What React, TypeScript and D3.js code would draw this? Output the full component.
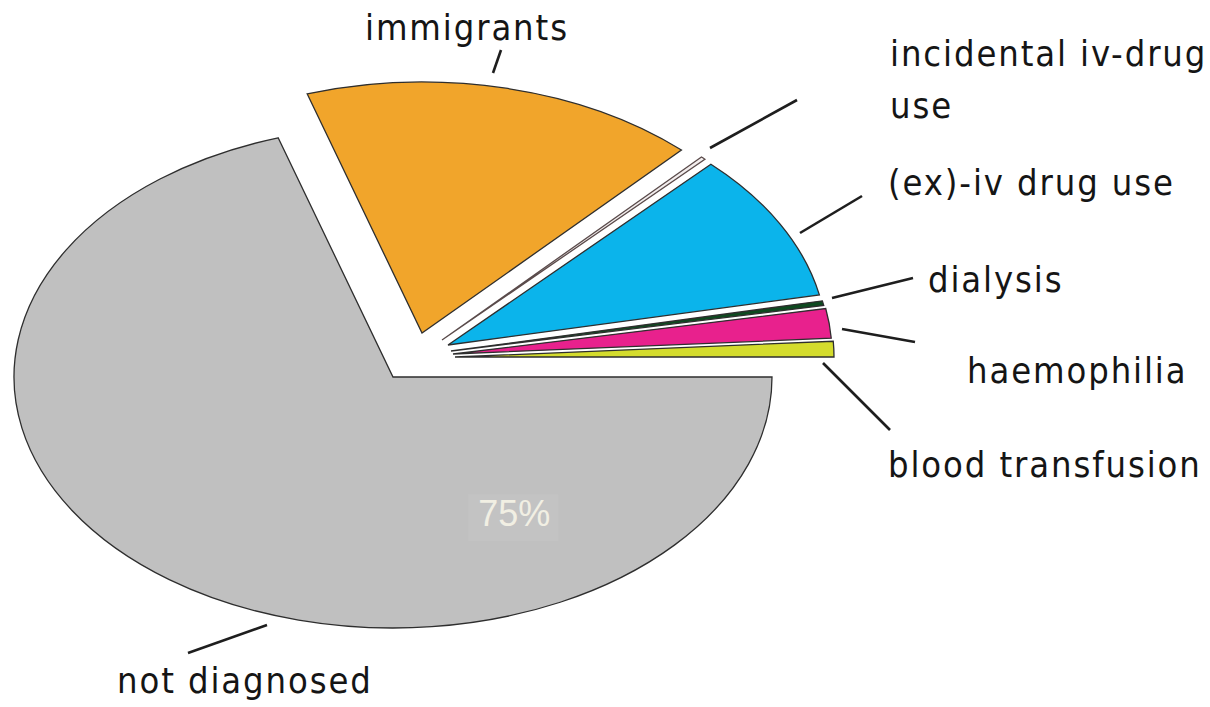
import React, { useEffect } from 'react';
import * as d3 from 'd3';

// slice order follows the drawing, clockwise from 3 o'clock
const categories = [
  'not diagnosed',
  'immigrants',
  'incidental iv-drug use',
  '(ex)-iv drug use',
  'dialysis',
  'haemophilia',
  'blood transfusion',
];
const shares = [70.1, 16.9, 0.2, 9.6, 0.3, 1.9, 1.0];
const labelLines = [
  ['not diagnosed'],
  ['immigrants'],
  ['incidental iv-drug', 'use'],
  ['(ex)-iv drug use'],
  ['dialysis'],
  ['haemophilia'],
  ['blood transfusion'],
];
const valueLabel = '75%';

const colors = ['#c0c0c0', '#f1a52b', '#f3eeee', '#0bb4eb', '#0e4a20', '#e8218d', '#d4dc2d'];

// layout
const W = 1210;
const H = 707;
const CX = 393;
const CY = 377;
const RX = 379;
const RY = 251;
const explode: [number, number][] = [[0, 0], [29, -44], [49, -37], [55, -32], [58, -26], [60, -23], [62, -20]];
const labelPos: [number, number][] = [[117, 693], [365, 40], [890, 66], [888, 195], [928, 292], [967, 383], [888, 477]];
const leaders: [number, number, number, number][] = [
  [267, 625, 188, 653],
  [493, 73, 501, 50],
  [710, 148, 797, 100],
  [800, 233, 862, 196],
  [832, 298, 913, 278],
  [842, 329, 915, 342],
  [823, 363, 890, 430],
];
const LINE_H = 52;

export default function App() {
  useEffect(() => {
    document.body.style.margin = '0';
  }, []);

  const data = categories.map((name, i) => ({ name, value: shares[i], i }));

  const pie = d3.pie<{ name: string; value: number; i: number }>()
    .sort(null)
    .value(d => d.value)
    .startAngle(Math.PI / 2)
    .endAngle(Math.PI / 2 + 2 * Math.PI);

  const arcs = pie(data);

  const arc = d3.arc<d3.PieArcDatum<{ name: string; value: number; i: number }>>()
    .innerRadius(0)
    .outerRadius(RX);

  // value label placed inside the big slice
  const lblAngle = (60 * Math.PI) / 180;
  const lx = CX + 0.64 * RX * Math.cos(lblAngle);
  const ly = CY + 0.64 * RY * Math.sin(lblAngle);

  return (
    <svg width={W} height={H} style={{ display: 'block', background: '#fff' }}>
      <g>
        {arcs.map(a => (
          <g
            key={a.data.name}
            transform={`translate(${CX + explode[a.index][0]},${CY + explode[a.index][1]}) scale(1,${RY / RX})`}
          >
            <path
              d={arc(a) || ''}
              fill={colors[a.index]}
              stroke={a.index === 2 ? '#5a4b4b' : '#2e2e2e'}
              strokeWidth={1.3}
              vectorEffect="non-scaling-stroke"
              strokeLinejoin="miter"
            />
          </g>
        ))}
      </g>

      <rect x={lx - 46} y={ly - 22} width={90} height={47} fill="#c3c3c3" />
      <text
        x={lx}
        y={ly + 10}
        textAnchor="middle"
        fill="#f1efe3"
        style={{ font: '36px "Liberation Sans", Arial, sans-serif' }}
      >
        {valueLabel}
      </text>

      <g stroke="#1e1e1e" strokeWidth={2.6} strokeLinecap="butt">
        {leaders.map((l, i) => (
          <line key={i} x1={l[0]} y1={l[1]} x2={l[2]} y2={l[3]} />
        ))}
      </g>

      <g
        fill="#151515"
        style={{
          fontFamily: '"DejaVu Sans Condensed", "DejaVu Sans", sans-serif',
          fontStretch: 'condensed',
          fontSize: 36,
          letterSpacing: 1.9,
        }}
      >
        {labelLines.map((lines, i) => (
          <text key={categories[i]} x={labelPos[i][0]} y={labelPos[i][1]}>
            {lines.map((s, j) => (
              <tspan key={j} x={labelPos[i][0]} dy={j === 0 ? 0 : LINE_H}>
                {s}
              </tspan>
            ))}
          </text>
        ))}
      </g>
    </svg>
  );
}
